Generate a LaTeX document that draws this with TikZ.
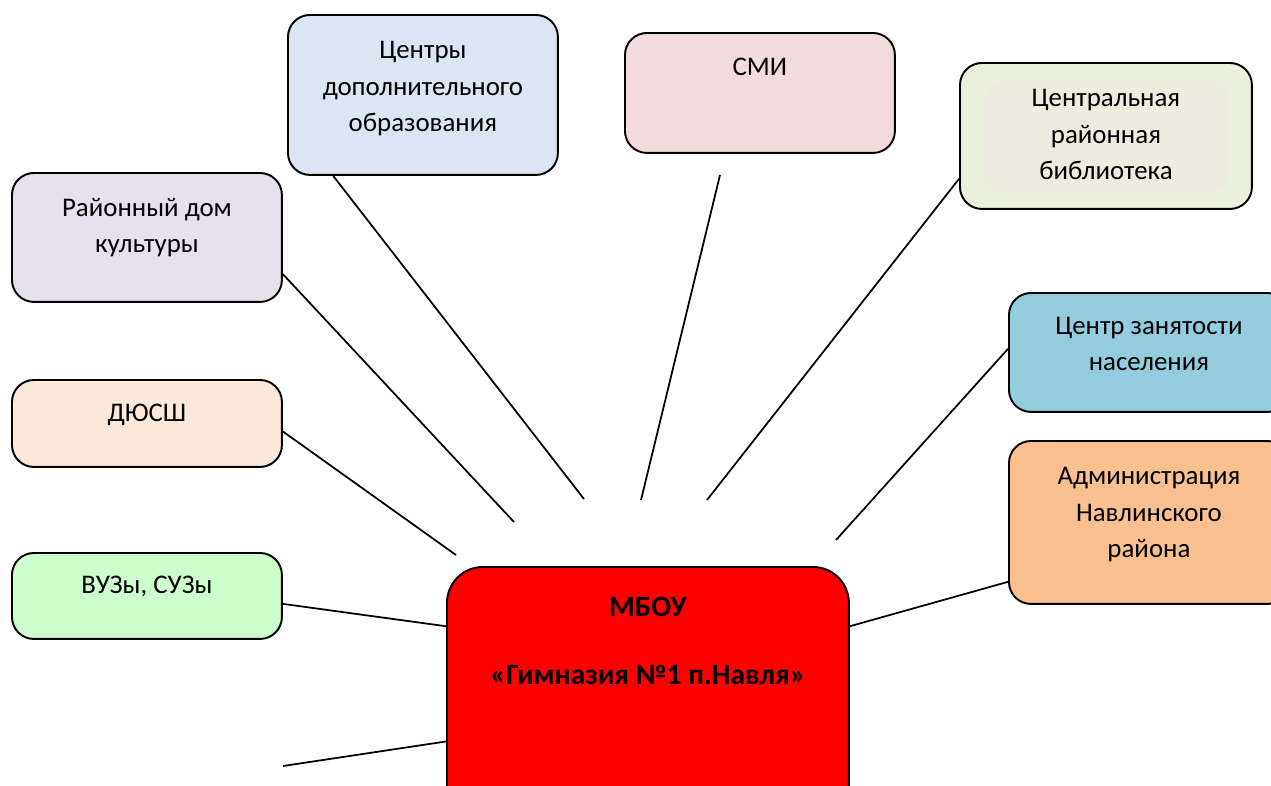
\documentclass[tikz,border=0pt]{standalone}
\usepackage{fontspec}
\setmainfont{Carlito}
\usepackage{tikz}
\usetikzlibrary{calc}
\definecolor{cdocol}{HTML}{DCE6F2}
\definecolor{smicol}{HTML}{F2DCDB}
\definecolor{libcol}{HTML}{EBF1DE}
\definecolor{libin}{HTML}{EEECE1}
\definecolor{rdkcol}{HTML}{E6E0EC}
\definecolor{czncol}{HTML}{93CDDD}
\definecolor{dyucol}{HTML}{FDE9D9}
\definecolor{admcol}{HTML}{FAC090}
\definecolor{vuzcol}{HTML}{CCFFCC}
\tikzstyle{box}  = [draw=black, line width=1.1pt, rounded corners=0.44cm, inner sep=0pt, anchor=north west, align=center, minimum width=5.4cm, text height=0.86cm, font=\fontsize{15.3}{21}\selectfont]
\tikzstyle{link} = [line width=1pt]

\begin{document}
\begin{tikzpicture}[x=0.02cm, y=-0.02cm]
  \useasboundingbox (0,0) rectangle (1271,785);
  \node[box, fill=cdocol, text height=2.34cm, text depth=0.86cm] (cdo) at (287,14) {Центры\\дополнительного\\образования};
  \node[box, fill=smicol, text depth=1.54cm] (smi) at (624,32) {СМИ};
  \node[box, fill=libcol, minimum width=5.84cm, text height=2.34cm, text depth=0.58cm,
        path picture={\fill[libin] ($(path picture bounding box.north west)+(24,18)$) rectangle ($(path picture bounding box.south east)+(-23,-16)$);}] (lib) at (959,62) {Центральная\\районная\\библиотека};
  \node[box, fill=rdkcol, text height=1.60cm, text depth=0.98cm] (rdk) at (11,172) {Районный дом\\культуры};
  \node[box, fill=czncol, minimum width=5.6cm, text height=1.56cm, text depth=0.82cm] (czn) at (1008,292) {Центр занятости\\населения};
  \node[box, fill=dyucol, text height=0.84cm, text depth=0.90cm] (dyu) at (11,379) {ДЮСШ};
  \node[box, fill=admcol, minimum width=5.6cm, text height=2.34cm, text depth=0.92cm] (adm) at (1008,440) {Администрация\\Навлинского\\района};
  \node[box, fill=vuzcol, text height=0.82cm, text depth=0.90cm] (vuz) at (11,552) {ВУЗы, СУЗы};
  \node[box, fill=red, minimum width=8.04cm, rounded corners=0.72cm, text height=2.36cm, text depth=2.84cm, font=\fontsize{16.8}{21}\selectfont\bfseries] (mbou) at (446,566) {МБОУ\\[0.64cm]«Гимназия №1 п.Навля»};

  \coordinate (cdoEnd) at (584,499);
  \coordinate (smiStart) at (720,175);
  \coordinate (smiEnd) at (641,500);
  \coordinate (libEnd) at (707,500);
  \coordinate (rdkEnd) at (514,522);
  \coordinate (cznEnd) at (836,540);
  \coordinate (dyuEnd) at (456,555);
  \coordinate (freeStart) at (283,766);

  \draw[link] ($(cdo.south west)!0.17!(cdo.south east)$) -- (cdoEnd);
  \draw[link] (smiStart) -- (smiEnd);
  \draw[link] ($(lib.north west)!0.79!(lib.south west)$) -- (libEnd);
  \draw[link] ($(rdk.north east)!0.78!(rdk.south east)$) -- (rdkEnd);
  \draw[link] ($(czn.north west)!0.47!(czn.south west)$) -- (cznEnd);
  \draw[link] ($(dyu.north east)!0.59!(dyu.south east)$) -- (dyuEnd);
  \draw[link] ($(vuz.north east)!0.59!(vuz.south east)$) -- ($(mbou.north west)!0.23!(mbou.south west)$);
  \draw[link] ($(adm.north west)!0.86!(adm.south west)$) -- ($(mbou.north east)!0.23!(mbou.south east)$);
  \draw[link] (freeStart) -- ($(mbou.north west)!0.67!(mbou.south west)$);
\end{tikzpicture}
\end{document}
